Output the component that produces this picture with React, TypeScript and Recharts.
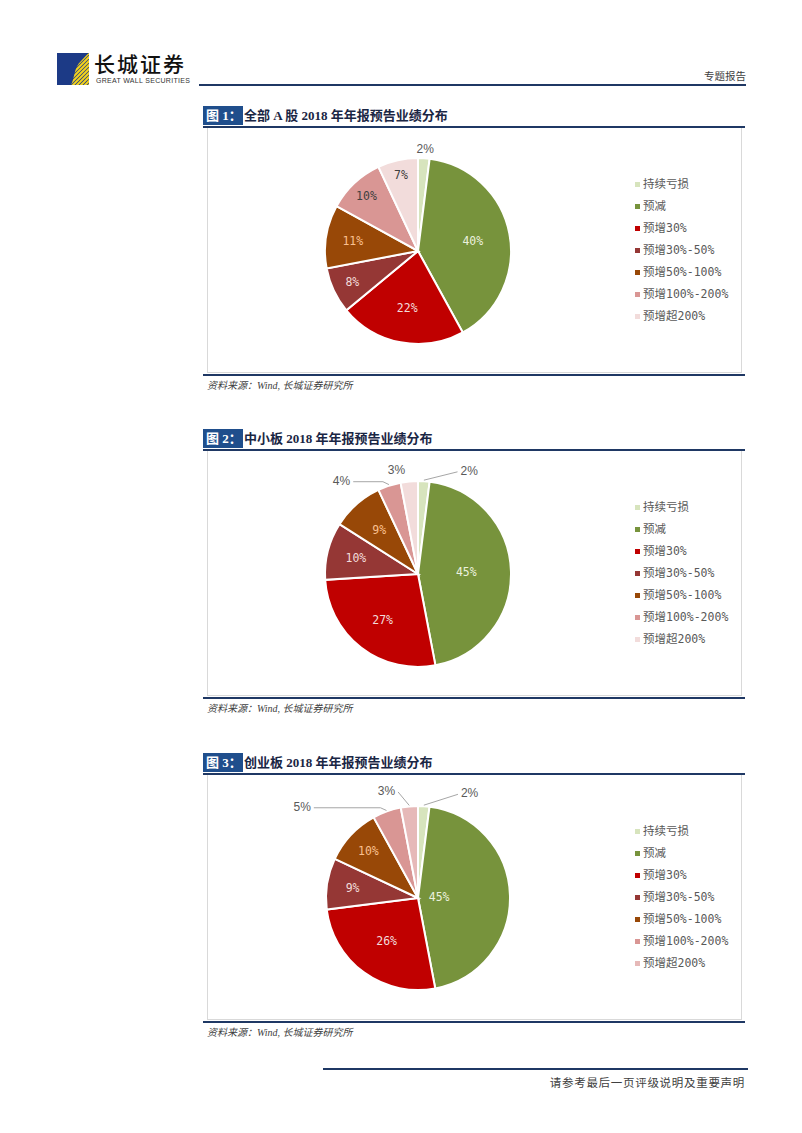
import React from 'react';
import { PieChart, Pie, Cell, Legend } from 'recharts';

// ---------- data ----------
const categories = ['持续亏损', '预减', '预增30%', '预增30%-50%', '预增50%-100%', '预增100%-200%', '预增超200%'];
const allAValues = [2, 40, 22, 8, 11, 10, 7];
const smeValues = [2, 45, 27, 10, 9, 4, 3];
const chinextValues = [2, 45, 26, 9, 10, 5, 3];

const chartTitles = ['全部 A 股 2018 年年报预告业绩分布', '中小板 2018 年年报预告业绩分布', '创业板 2018 年年报预告业绩分布'];
const figureTags = ['图 1：', '图 2：', '图 3：'];
const sourceText = '资料来源：Wind, 长城证券研究所';

// ---------- style ----------
const baseColors = ['#d7e4bd', '#77933c', '#c00000', '#953735', '#984807', '#d99694', '#f2dcdb'];
const chinextColors = ['#d7e4bd', '#77933c', '#c00000', '#953735', '#984807', '#d99694', '#e6b9b8'];
const labelTextColors = ['#595959', '#ebf1de', '#f2dcdb', '#f2dcdb', '#fac090', '#404040', '#404040'];
const NAVY = '#1f3864';

type LabelCfg =
  | { kind: 'in'; f: number }
  | { kind: 'out'; a: number; f: number; anchor: 'start' | 'middle' | 'end'; leader: 'none' | 'direct' | 'bend' };

const allALabels: LabelCfg[] = [
  { kind: 'out', a: 4, f: 1.1, anchor: 'middle', leader: 'none' },
  { kind: 'in', f: 0.6 },
  { kind: 'in', f: 0.62 },
  { kind: 'in', f: 0.78 },
  { kind: 'in', f: 0.71 },
  { kind: 'in', f: 0.81 },
  { kind: 'in', f: 0.84 },
];
const smeLabels: LabelCfg[] = [
  { kind: 'out', a: 22.4, f: 1.2, anchor: 'start', leader: 'direct' },
  { kind: 'in', f: 0.52 },
  { kind: 'in', f: 0.62 },
  { kind: 'in', f: 0.69 },
  { kind: 'in', f: 0.63 },
  { kind: 'out', a: -36, f: 1.24, anchor: 'end', leader: 'bend' },
  { kind: 'out', a: -11.7, f: 1.14, anchor: 'middle', leader: 'none' },
];
const chinextLabels: LabelCfg[] = [
  { kind: 'out', a: 22.3, f: 1.23, anchor: 'start', leader: 'direct' },
  { kind: 'in', f: 0.23 },
  { kind: 'in', f: 0.58 },
  { kind: 'in', f: 0.72 },
  { kind: 'in', f: 0.74 },
  { kind: 'out', a: -49.6, f: 1.53, anchor: 'end', leader: 'bend' },
  { kind: 'out', a: -12.1, f: 1.19, anchor: 'end', leader: 'direct' },
];

const RAD = Math.PI / 180;

function makeLabel(cfg: LabelCfg[]) {
  return (props: any) => {
    const { cx, cy, midAngle, outerRadius, index, value } = props;
    const c = cfg[index];
    if (!c) return null;
    if (c.kind === 'in') {
      const r = outerRadius * c.f;
      const x = cx + r * Math.cos(-midAngle * RAD);
      const y = cy + r * Math.sin(-midAngle * RAD);
      return (
        <text
          key={`l${index}`}
          x={x}
          y={y}
          fill={labelTextColors[index]}
          textAnchor="middle"
          dominantBaseline="central"
          fontSize={11.5}
          fontFamily="'DejaVu Sans Mono', monospace"
        >
          {`${value}%`}
        </text>
      );
    }
    const lx = cx + outerRadius * c.f * Math.sin(c.a * RAD);
    const ly = cy - outerRadius * c.f * Math.cos(c.a * RAD);
    const ex = cx + (outerRadius + 1) * Math.cos(-midAngle * RAD);
    const ey = cy + (outerRadius + 1) * Math.sin(-midAngle * RAD);
    let pts = '';
    if (c.leader !== 'none') {
      const sx = c.anchor === 'start' ? lx - 3 : lx + 3;
      const sy = ly + 1;
      if (c.leader === 'bend') {
        const bx = ex > sx ? ex - 6 : ex + 6;
        pts = `${sx},${sy} ${bx},${sy} ${ex},${ey}`;
      } else {
        pts = `${sx},${sy} ${ex},${ey}`;
      }
    }
    return (
      <g key={`l${index}`}>
        {pts && <polyline points={pts} fill="none" stroke="#a6a6a6" strokeWidth={1} />}
        <text
          x={lx}
          y={ly}
          fill="#595959"
          textAnchor={c.anchor}
          dominantBaseline="central"
          fontSize={12}
          fontFamily="'Liberation Sans', Arial, sans-serif"
        >
          {`${value}%`}
        </text>
      </g>
    );
  };
}

function LegendBox({ colors }: { colors: string[] }) {
  return (
    <div style={{ width: 110 }}>
      {categories.map((name, i) => (
        <div key={name} style={{ height: 22, display: 'flex', alignItems: 'center', whiteSpace: 'nowrap' }}>
          <span style={{ display: 'inline-block', width: 5, height: 5, background: colors[i], marginRight: 3 }} />
          <span
            style={{
              fontSize: 11.5,
              color: '#595959',
              fontFamily: "'DejaVu Sans Mono', 'Noto Sans CJK SC', monospace",
              lineHeight: '22px',
            }}
          >
            {name}
          </span>
        </div>
      ))}
    </div>
  );
}

function Section({
  offset,
  idx,
  values,
  colors,
  labels,
  radius,
}: {
  offset: number;
  idx: number;
  values: number[];
  colors: string[];
  labels: LabelCfg[];
  radius: number;
}) {
  const data = categories.map((name, i) => ({ name, value: values[i] }));
  const top = 106 + offset;
  return (
    <>
      {/* title */}
      <div
        style={{
          position: 'absolute',
          left: 203,
          top: top,
          height: 19,
          background: '#1f4e8c',
          color: '#fff',
          fontSize: 13,
          fontWeight: 700,
          lineHeight: '19px',
          padding: '0 1px 0 3px',
          fontFamily: "'Liberation Serif', 'Noto Sans CJK SC', serif",
        }}
      >
        {figureTags[idx]}
      </div>
      <div
        style={{
          position: 'absolute',
          left: 244,
          top: top,
          height: 19,
          color: '#1a2644',
          fontSize: 13,
          fontWeight: 700,
          lineHeight: '19px',
          whiteSpace: 'nowrap',
          fontFamily: "'Liberation Serif', 'Noto Sans CJK SC', serif",
        }}
      >
        {chartTitles[idx]}
      </div>
      <div style={{ position: 'absolute', left: 203, top: top + 20, width: 542, height: 2, background: NAVY }} />
      {/* frame */}
      <div
        style={{
          position: 'absolute',
          left: 207,
          top: top + 22,
          width: 535,
          height: 245,
          border: '1px solid #d9d9d9',
          borderTop: 'none',
          boxSizing: 'border-box',
        }}
      />
      <div style={{ position: 'absolute', left: 207, top: top + 21 }}>
        <PieChart width={536} height={246} margin={{ top: 0, right: 0, bottom: 0, left: 0 }}>
          <Pie
            data={data}
            dataKey="value"
            nameKey="name"
            cx={211}
            cy={124}
            outerRadius={radius}
            startAngle={90}
            endAngle={-270}
            stroke="#ffffff"
            strokeWidth={2}
            isAnimationActive={false}
            labelLine={false}
            label={makeLabel(labels)}
          >
            {data.map((d, i) => (
              <Cell key={d.name} fill={colors[i]} />
            ))}
          </Pie>
          <Legend
            layout="vertical"
            content={() => <LegendBox colors={colors} />}
            wrapperStyle={{ position: 'absolute', left: 428, top: 46, width: 120 }}
          />
        </PieChart>
      </div>
      <div style={{ position: 'absolute', left: 203, top: top + 268, width: 542, height: 2, background: NAVY }} />
      <div
        style={{
          position: 'absolute',
          left: 207,
          top: top + 273,
          fontSize: 10,
          fontStyle: 'italic',
          color: '#404040',
          whiteSpace: 'nowrap',
          lineHeight: '14px',
          fontFamily: "'Liberation Serif', 'Noto Sans CJK SC', serif",
        }}
      >
        {sourceText}
      </div>
    </>
  );
}

function Logo() {
  return (
    <svg width={32} height={32} style={{ position: 'absolute', left: 57, top: 53 }}>
      <defs>
        <clipPath id="logoclip">
          <path d="M32,0 L32,32 L14,32 C18,24 17,14 24,8 C27,5 29,2 32,0 Z" />
        </clipPath>
      </defs>
      <rect x={0} y={0} width={32} height={32} fill="#1c3a86" />
      <g clipPath="url(#logoclip)">
        <rect x={0} y={0} width={32} height={32} fill="#1c3a86" />
        {Array.from({ length: 14 }).map((_, i) => (
          <line key={i} x1={i * 4 - 10} y1={34} x2={i * 4 + 24} y2={0} stroke="#f5d31a" strokeWidth={2} />
        ))}
      </g>
    </svg>
  );
}

export default function App() {
  return (
    <div
      style={{
        position: 'absolute',
        left: 0,
        top: 0,
        width: 802,
        height: 1133,
        background: '#fff',
        overflow: 'hidden',
      }}
    >
      {/* header */}
      <Logo />
      <div
        style={{
          position: 'absolute',
          left: 94,
          top: 50,
          fontSize: 21,
          letterSpacing: 2,
          fontWeight: 500,
          color: '#111',
          lineHeight: '26px',
          whiteSpace: 'nowrap',
          fontFamily: "'Noto Sans CJK SC', serif",
        }}
      >
        长城证券
      </div>
      <div
        style={{
          position: 'absolute',
          left: 96,
          top: 76,
          fontSize: 7,
          letterSpacing: 0.3,
          color: '#333',
          lineHeight: '9px',
          whiteSpace: 'nowrap',
          fontFamily: "'Liberation Sans', Arial, sans-serif",
        }}
      >
        GREAT WALL SECURITIES
      </div>
      <div
        style={{
          position: 'absolute',
          right: 802 - 746,
          top: 69,
          fontSize: 10.5,
          color: '#404040',
          lineHeight: '14px',
          whiteSpace: 'nowrap',
          fontFamily: "'Noto Sans CJK SC', sans-serif",
        }}
      >
        专题报告
      </div>
      <div style={{ position: 'absolute', left: 199, top: 84, width: 547, height: 2, background: NAVY }} />

      <Section offset={0} idx={0} values={allAValues} colors={baseColors} labels={allALabels} radius={93} />
      <Section offset={323} idx={1} values={smeValues} colors={baseColors} labels={smeLabels} radius={93} />
      <Section offset={647} idx={2} values={chinextValues} colors={chinextColors} labels={chinextLabels} radius={92} />

      {/* footer */}
      <div style={{ position: 'absolute', left: 323, top: 1068, width: 425, height: 2, background: NAVY }} />
      <div
        style={{
          position: 'absolute',
          right: 802 - 745,
          top: 1074,
          fontSize: 11.5,
          letterSpacing: 0.7,
          color: '#404040',
          lineHeight: '16px',
          whiteSpace: 'nowrap',
          fontFamily: "'Noto Sans CJK SC', sans-serif",
        }}
      >
        请参考最后一页评级说明及重要声明
      </div>
    </div>
  );
}
